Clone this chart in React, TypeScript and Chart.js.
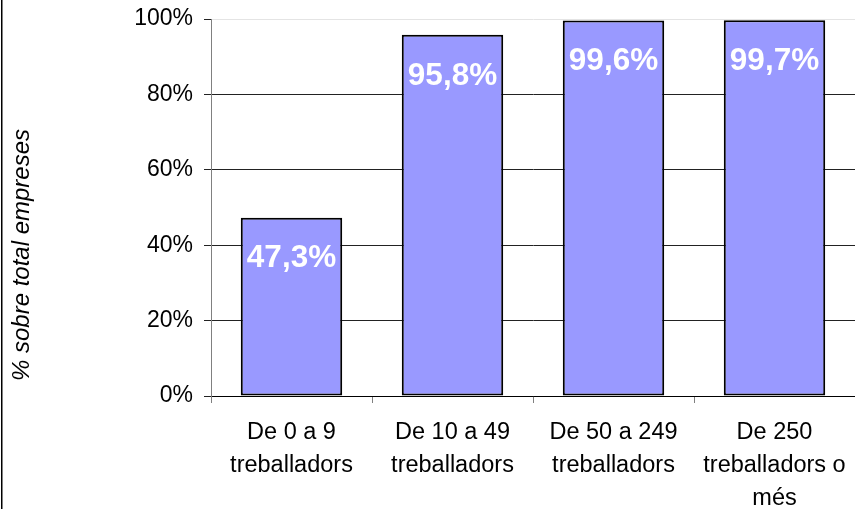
import React, { useEffect, useRef } from "react";
import { Chart, registerables } from "chart.js";

Chart.register(...registerables);

const categories: string[][] = [
  ["De 0 a 9", "treballadors"],
  ["De 10 a 49", "treballadors"],
  ["De 50 a 249", "treballadors"],
  ["De 250", "treballadors o", "més"],
];
const values: number[] = [47.3, 95.8, 99.6, 99.7];
const yTicks: number[] = [0, 20, 40, 60, 80, 100];
const yTitle = "% sobre total empreses";

const FONT = "'Liberation Sans', Arial, sans-serif";

const fmt = (v: number) => v.toFixed(1).replace(".", ",") + "%";

const overlay = {
  id: "overlay",
  afterDatasetsDraw(chart: any) {
    const ctx = chart.ctx;
    const meta = chart.getDatasetMeta(0);
    ctx.save();
    ctx.fillStyle = "#ffffff";
    ctx.font = `bold 31.5px ${FONT}`;
    ctx.textAlign = "center";
    ctx.textBaseline = "middle";
    meta.data.forEach((bar: any, i: number) => {
      ctx.fillText(fmt(values[i]), bar.x, bar.y + 41);
    });
    ctx.restore();
  },
  afterDraw(chart: any) {
    const ctx = chart.ctx;
    ctx.save();
    ctx.fillStyle = "#000";
    ctx.fillRect(1, 0, 1.5, chart.height);
    ctx.translate(22, 255);
    ctx.rotate(-Math.PI / 2);
    ctx.font = `italic 24px ${FONT}`;
    ctx.textAlign = "center";
    ctx.textBaseline = "middle";
    ctx.fillText(yTitle, 0, 0);
    ctx.restore();
  },
};

export default function App() {
  const ref = useRef<HTMLCanvasElement>(null);
  useEffect(() => {
    if (!ref.current) return;
    const chart = new Chart(ref.current, {
      type: "bar",
      data: {
        labels: categories,
        datasets: [
          {
            data: values,
            backgroundColor: "#9999FF",
            borderColor: "#000000",
            borderWidth: 2,
            borderSkipped: false,
            barPercentage: 0.63,
            categoryPercentage: 1,
          },
        ],
      },
      options: {
        responsive: false,
        animation: false,
        layout: { padding: { top: 19, left: 0, right: 0, bottom: 0 } },
        plugins: { legend: { display: false }, tooltip: { enabled: false } },
        scales: {
          x: {
            grid: {
              display: true,
              drawOnChartArea: false,
              offset: true,
              tickLength: 7,
              color: "#808080",
            },
            border: { display: true, color: "#000" },
            ticks: {
              color: "#000",
              font: { family: FONT, size: 23.5, lineHeight: 1.4 },
              padding: 13,
              maxRotation: 0,
              autoSkip: false,
            },
            afterFit(scale: any) {
              scale.height = 113;
              scale.paddingLeft = 0;
              scale.paddingRight = 0;
            },
          },
          y: {
            min: 0,
            max: 100,
            afterBuildTicks(scale: any) {
              scale.ticks = yTicks.map((v) => ({ value: v }));
            },
            grid: {
              color: (c: any) => (c.tick && c.tick.value === 100 ? "#e4e4e4" : "#222"),
              tickColor: "#222",
              tickLength: 7,
            },
            border: { display: true, color: "#808080" },
            ticks: {
              color: "#000",
              font: { family: FONT, size: 23 },
              padding: 11,
              callback: (v: any) => v + "%",
            },
            afterFit(scale: any) {
              scale.width = 211;
              scale.paddingTop = 0;
              scale.paddingBottom = 0;
            },
          },
        },
      },
      plugins: [overlay],
    });
    return () => chart.destroy();
  }, []);
  return (
    <div style={{ position: "absolute", left: 0, top: 0, width: 855, height: 509, background: "#fff" }}>
      <canvas ref={ref} width={855} height={509} />
    </div>
  );
}
